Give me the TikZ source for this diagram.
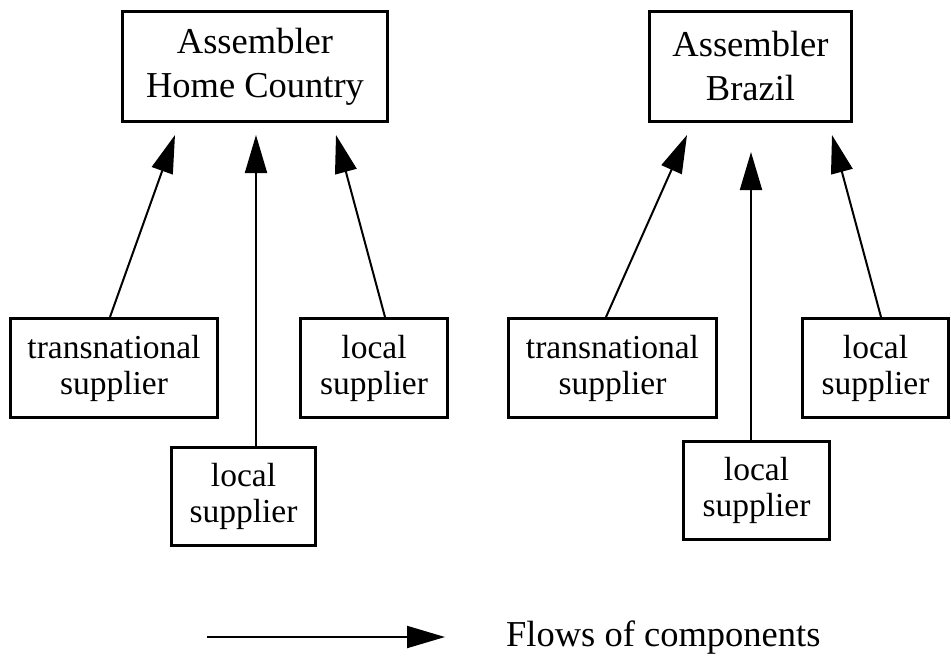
\documentclass[tikz,border=0pt]{standalone}
\usepackage{fontspec}
\setmainfont{Liberation Serif}
\usetikzlibrary{arrows.meta}

\begin{document}
\begin{tikzpicture}[x=1pt, y=-1pt,
    assembler/.style={draw, line width=3pt, align=center, inner sep=0pt, minimum height=110pt, font=\fontsize{36.5}{44}\selectfont},
    supplier/.style={draw, line width=3pt, align=center, inner sep=0pt, minimum height=99pt, font=\fontsize{33.5}{36}\selectfont},
    flow/.style={line width=2pt, -{Triangle[length=38pt, width=22pt]}}]
    \useasboundingbox (0, 0) rectangle (951, 657);

    % home country
    \node [assembler, minimum width=265pt] (homeasm) at (255, 66.5) {Assembler\\Home Country};
    \node [supplier, minimum width=207pt] (transhome) at (114, 368) {transnational\\supplier};
    \node [supplier, minimum width=147pt] (localhome) at (374, 368) {local\\supplier};
    \node [supplier, minimum width=144pt, minimum height=98pt] (localhomelow) at (243.5, 496.5) {local\\supplier};

    \draw [flow] ([xshift=-4pt]transhome.north) -- ([xshift=-80pt, yshift=-12pt]homeasm.south);
    \draw [flow] ([xshift=12.5pt]localhomelow.north) -- ([xshift=1pt, yshift=-12pt]homeasm.south);
    \draw [flow] ([xshift=11pt]localhome.north) -- ([xshift=81pt, yshift=-12pt]homeasm.south);

    % brazil
    \node [assembler, minimum width=202pt] (brazilasm) at (750.5, 66.5) {Assembler\\Brazil};
    \node [supplier, minimum width=208pt] (transbrazil) at (612.5, 368) {transnational\\supplier};
    \node [supplier, minimum width=146pt] (localbrazil) at (875.5, 368) {local\\supplier};
    \node [supplier, minimum width=146pt, minimum height=98pt] (localbrazillow) at (756.5, 490.5) {local\\supplier};

    \draw [flow] ([xshift=-6.5pt]transbrazil.north) -- ([xshift=-63.5pt, yshift=-12pt]brazilasm.south);
    \draw [flow] ([xshift=-5.5pt]localbrazillow.north) -- ([xshift=0.5pt, yshift=-29pt]brazilasm.south);
    \draw [flow] ([xshift=5.5pt]localbrazil.north) -- ([xshift=81.5pt, yshift=-12pt]brazilasm.south);

    % key
    \coordinate (keystart) at (207, 637);
    \coordinate (keytip) at (445, 637);
    \draw [flow] (keystart) -- (keytip);
    \node [anchor=base west, inner sep=0pt, font=\fontsize{36.5}{44}\selectfont] (keytext) at (506, 646) {Flows of components};
\end{tikzpicture}
\end{document}
